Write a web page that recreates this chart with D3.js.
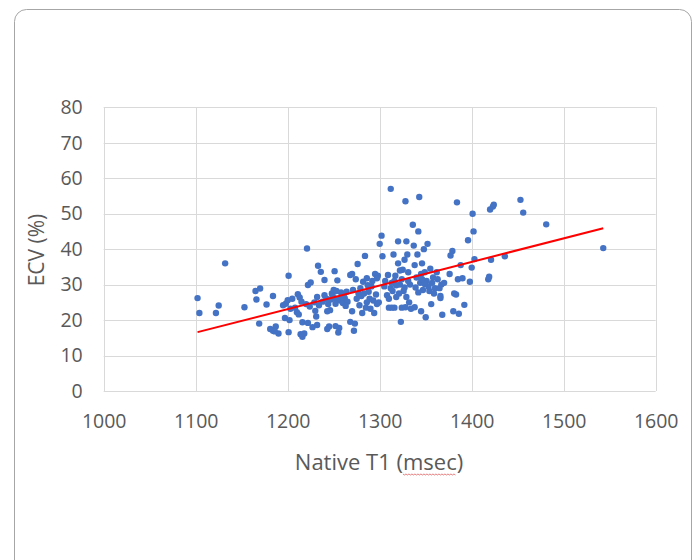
<!DOCTYPE html>
<html>
<head>
<meta charset="utf-8">
<script src="https://cdn.jsdelivr.net/npm/d3@7"></script>
<style>
  body { margin: 0; background: #fff; }
  svg { display: block; }
  text { font-family: "Open Sans", "Liberation Sans", sans-serif; fill: #595959; }
</style>
</head>
<body>
<div id="chart"></div>
<script>
// native T1 (msec) and ECV (%) per patient
const nativeT1 = [
  1102, 1104, 1122, 1125, 1132, 1153, 1165, 1170, 1166, 1169, 1177, 1184, 1181, 1184, 1187, 1190, 1186, 1195, 1198, 1197, 1200,
  1201, 1202, 1201, 1203, 1205, 1208, 1210, 1211, 1213, 1215, 1212, 1214, 1216, 1218, 1216, 1221, 1222, 1222, 1225, 1220, 1224, 1227, 1229, 1230, 1231, 1232, 1233, 1236, 1232, 1234,
  1240, 1238, 1240, 1242, 1244, 1245, 1246, 1248, 1250, 1251, 1253, 1254, 1255, 1256, 1257, 1258, 1260, 1262, 1264, 1265, 1243, 1247, 1249, 1252, 1253, 1259, 1261, 1263, 1243, 1252,
  1268, 1270, 1272, 1273, 1274, 1276, 1277, 1278, 1280, 1282, 1284, 1285, 1286, 1288, 1289, 1290, 1291, 1293, 1294, 1295, 1296, 1297, 1298, 1299, 1268, 1271, 1275, 1279, 1283, 1286, 1287, 1292, 1270, 1281, 1297,
  1300, 1302, 1303, 1305, 1308, 1310, 1312, 1313, 1314, 1315, 1316, 1317, 1318, 1320, 1320, 1322, 1323, 1324, 1325, 1326, 1327, 1328, 1329, 1330, 1331, 1332, 1333, 1334, 1309, 1310, 1312, 1316, 1318, 1321, 1324, 1327, 1329, 1331, 1313, 1328, 1306, 1322,
  1336, 1337, 1338, 1339, 1340, 1341, 1342, 1343, 1344, 1345, 1346, 1347, 1348, 1349, 1350, 1351, 1352, 1353, 1355, 1356, 1357, 1358, 1360, 1338, 1342, 1345, 1349, 1354, 1346, 1359,
  1363, 1366, 1367, 1368, 1370, 1376, 1377, 1379, 1380, 1383, 1384, 1385, 1386, 1388, 1390, 1392, 1396, 1398, 1400, 1401, 1402, 1403, 1362, 1365, 1381, 1366,
  1418, 1419, 1420, 1421, 1423, 1424, 1436, 1453, 1456, 1481, 1543
]
const ecv = [
  26.2, 22.0, 22.0, 24.1, 36.0, 23.6, 28.2, 28.9, 25.8, 19.0, 24.4, 26.8, 17.5, 17.0, 18.2, 16.2, 16.8, 24.2, 24.6, 20.6, 25.6,
  32.5, 20.0, 16.6, 23.2, 26.0, 23.5, 22.2, 27.3, 26.4, 25.2, 21.6, 16.0, 15.3, 16.2, 19.4, 40.2, 19.2, 29.9, 30.6, 24.5, 23.8, 18.0, 25.0, 22.6, 21.0, 18.6, 35.3, 33.6, 26.5, 24.2,
  31.3, 25.2, 27.0, 26.0, 24.5, 18.2, 22.8, 27.5, 28.5, 33.8, 26.0, 31.2, 16.5, 17.8, 25.5, 27.8, 24.8, 26.2, 28.0, 25.2, 22.5, 25.8, 26.8, 24.6, 28.2, 26.5, 27.2, 24.0, 17.5, 18.3,
  19.5, 33.0, 17.0, 19.0, 31.5, 35.8, 27.5, 24.2, 26.8, 30.8, 38.1, 23.5, 31.8, 28.0, 26.0, 23.2, 29.5, 25.5, 22.0, 33.0, 27.2, 24.5, 32.5, 25.0, 32.7, 28.5, 26.0, 29.0, 27.5, 25.0, 29.8, 31.0, 22.5, 22.0, 31.8,
  41.5, 43.8, 38.0, 29.5, 27.0, 23.5, 57.0, 30.5, 28.2, 38.5, 23.5, 32.5, 26.5, 42.2, 36.0, 30.0, 19.5, 23.5, 34.2, 28.2, 37.0, 53.5, 42.2, 38.5, 33.5, 25.0, 30.0, 23.2, 32.7, 26.0, 29.0, 31.0, 29.8, 27.5, 31.5, 29.2, 26.5, 31.0, 23.5, 23.6, 31.0, 34.0,
  46.9, 41.0, 35.5, 29.2, 32.0, 38.5, 45.0, 54.7, 30.5, 22.5, 36.0, 28.5, 40.0, 33.5, 20.8, 31.0, 41.5, 29.5, 34.5, 24.5, 30.5, 32.0, 29.0, 23.6, 27.8, 33.0, 30.2, 28.2, 31.5, 27.5,
  31.5, 26.2, 30.0, 21.5, 30.5, 33.0, 38.2, 39.5, 22.5, 27.2, 53.2, 31.5, 21.8, 35.5, 31.8, 24.3, 42.5, 30.8, 34.8, 50.0, 45.0, 37.2, 33.5, 29.0, 27.5, 26.8,
  31.5, 32.2, 51.2, 37.0, 52.0, 52.5, 38.0, 53.9, 50.3, 47.0, 40.3
]

// linear trendline, end points
const trendT1 = [1102, 1543]
const trendEcv = [16.6, 45.9]

const xTicks = [1000, 1100, 1200, 1300, 1400, 1500, 1600]
const yTicks = [0, 10, 20, 30, 40, 50, 60, 70, 80]

const width = 697,
      height = 560
const margin = { top: 107.3, right: 41.3, bottom: 169, left: 103.7 }

const svg = d3.select("#chart")
  .append("svg")
  .attr("width", width)
  .attr("height", height)

// outer frame
svg.append("rect")
  .attr("x", 14.5)
  .attr("y", 9.5)
  .attr("width", 677)
  .attr("height", 570)
  .attr("rx", 12)
  .attr("fill", "#fff")
  .attr("stroke", "#a6a6a6")

let scaleX = d3.scaleLinear()
  .domain([1000, 1600])
  .range([margin.left, width - margin.right])

let scaleY = d3.scaleLinear()
  .domain([0, 80])
  .range([height - margin.bottom, margin.top])

// gridlines
svg.append("g")
  .selectAll("line")
  .data(yTicks)
  .enter()
  .append("line")
    .attr("x1", scaleX(1000))
    .attr("x2", scaleX(1600))
    .attr("y1", d => Math.round(scaleY(d)) + 0.5)
    .attr("y2", d => Math.round(scaleY(d)) + 0.5)
    .attr("stroke", "#d9d9d9")

svg.append("g")
  .selectAll("line")
  .data(xTicks)
  .enter()
  .append("line")
    .attr("x1", d => Math.round(scaleX(d)) + 0.5)
    .attr("x2", d => Math.round(scaleX(d)) + 0.5)
    .attr("y1", scaleY(0))
    .attr("y2", scaleY(80))
    .attr("stroke", "#d9d9d9")

// tick labels via d3 axes, lines hidden
const yAxis = svg.append("g")
  .attr("transform", "translate(" + (margin.left - 10) + ",0)")
  .call(d3.axisLeft(scaleY).tickValues(yTicks).tickSize(0).tickPadding(11))
yAxis.select(".domain").remove()
yAxis.selectAll("text")
  .attr("font-size", "19.5px")
  .attr("font-family", null)
  .attr("fill", "#595959")

const xAxis = svg.append("g")
  .attr("transform", "translate(0," + (height - margin.bottom + 23) + ")")
  .call(d3.axisBottom(scaleX).tickValues(xTicks).tickSize(0).tickPadding(0).tickFormat(d3.format("d")))
xAxis.select(".domain").remove()
xAxis.selectAll("text")
  .attr("font-size", "19.5px")
  .attr("font-family", null)
  .attr("fill", "#595959")

// points
svg.append("g")
  .selectAll("circle")
  .data(d3.range(nativeT1.length))
  .enter()
  .append("circle")
    .attr("cx", i => scaleX(nativeT1[i]))
    .attr("cy", i => scaleY(ecv[i]))
    .attr("r", 3.2)
    .attr("fill", "#4472c4")

// trendline
svg.append("line")
  .attr("x1", scaleX(trendT1[0]))
  .attr("y1", scaleY(trendEcv[0]))
  .attr("x2", scaleX(trendT1[1]))
  .attr("y2", scaleY(trendEcv[1]))
  .attr("stroke", "#ff0000")
  .attr("stroke-width", 2)

// axis titles
svg.append("text")
  .attr("transform", "translate(44,250) rotate(-90)")
  .attr("text-anchor", "middle")
  .attr("font-size", "21px")
  .text("ECV (%)")

const xTitle = svg.append("text")
  .attr("x", 379)
  .attr("y", 470)
  .attr("text-anchor", "middle")
  .attr("font-size", "22px")
  .text("Native T1 (msec)")

// red spell-check squiggle under "msec"
const node = xTitle.node()
const start = node.getStartPositionOfChar(11).x
const end = node.getEndPositionOfChar(14).x
let squiggle = []
for (let x = start, k = 0; x <= end; x += 1.5, k++) {
  squiggle.push([x, 474 + (k % 2 ? 1 : 0)])
}
svg.append("path")
  .attr("d", d3.line()(squiggle))
  .attr("fill", "none")
  .attr("stroke", "#e06060")
  .attr("stroke-width", 0.8)
</script>
</body>
</html>
